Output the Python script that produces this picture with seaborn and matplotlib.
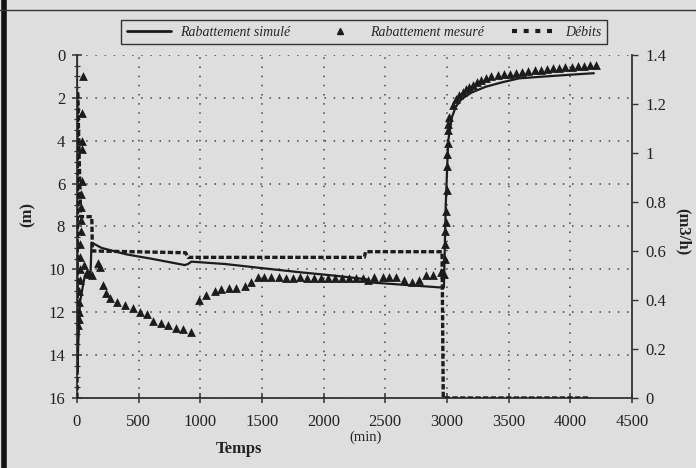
import numpy as np
import pandas as pd
import matplotlib
matplotlib.use('Agg')
import matplotlib.pyplot as plt
from matplotlib.lines import Line2D
from matplotlib.ticker import MultipleLocator, FuncFormatter
import seaborn as sns

# ## data
# simulated drawdown (m)
t_sim = [0, 4, 10, 25, 60, 110, 118, 200, 400, 600, 874, 900, 928, 1200, 1480, 1800, 2100,
         2344, 2355, 2600, 2962, 2975, 2990, 3010, 3040, 3072, 3120, 3200, 3315, 3450, 3584,
         3800, 4000, 4191]
s_sim = [0, 14.8, 13.5, 11.5, 10.4, 10.2, 8.75, 9.0, 9.3, 9.5, 9.8, 9.75, 9.64, 9.75, 9.93,
         10.13, 10.3, 10.46, 10.6, 10.7, 10.85, 10.85, 7.0, 4.0, 2.9, 2.41, 2.05, 1.75, 1.48,
         1.27, 1.09, 1.0, 0.92, 0.85]

# measured drawdown (m)
t_mes = [12, 14, 16, 18, 20, 22, 24, 26, 28, 30, 32, 34, 36, 38, 40, 42, 44, 46,
         60, 80, 100, 119, 173, 186,
         213, 235, 267, 321, 388, 456, 510, 564, 618, 685, 739, 806, 860, 928,
         990, 1049, 1117, 1171, 1232, 1292, 1359, 1413, 1467,
         1520, 1577, 1634, 1691, 1748, 1805, 1862, 1919, 1976, 2033, 2090, 2147, 2204, 2261,
         2318, 2360, 2410, 2478, 2532, 2587, 2654, 2713, 2775, 2829, 2883, 2950,
         2975, 2980, 2984, 2988, 2991, 2994, 2997, 3000, 3003, 3006, 3009, 3012,
         3018, 3045, 3072, 3099, 3126, 3153, 3180, 3210, 3240, 3275, 3315, 3360, 3410, 3460,
         3510, 3560, 3610, 3660, 3710, 3760, 3810, 3860, 3910, 3960, 4010, 4060, 4110, 4160,
         4205]
s_mes = [12.6, 12.3, 12.0, 11.5, 11.0, 10.5, 10.0, 9.4, 8.8, 8.2, 7.7, 7.1, 6.5, 5.9, 4.4,
         4.0, 2.7, 1.0,
         9.8, 10.1, 10.2, 10.26, 9.72, 9.9,
         10.73, 11.1, 11.35, 11.5, 11.66, 11.8, 11.97, 12.1, 12.4, 12.5, 12.6, 12.75, 12.8, 12.9,
         11.43, 11.2, 11.0, 10.93, 10.88, 10.85, 10.78, 10.57, 10.34,
         10.35, 10.37, 10.37, 10.38, 10.38, 10.37, 10.38, 10.38, 10.4, 10.4, 10.4, 10.4, 10.4,
         10.42, 10.42, 10.5, 10.37, 10.37, 10.37, 10.37, 10.5, 10.57, 10.5, 10.26, 10.26, 10.1,
         10.2, 9.5, 8.8, 8.2, 7.8, 7.3, 6.3, 5.2, 4.6, 4.1, 3.5, 3.2,
         2.88, 2.33, 2.05, 1.87, 1.72, 1.6, 1.48, 1.38, 1.28, 1.18, 1.09, 1.0, 0.94, 0.9,
         0.87, 0.85, 0.8, 0.76, 0.72, 0.69, 0.66, 0.63, 0.6, 0.58, 0.55, 0.53, 0.51, 0.49,
         0.47]

# discharge (m3/h)
t_q = [0, 5, 30, 120, 125, 880, 900, 2330, 2340, 2960, 2970, 4150]
q = [0, 1.25, 0.74, 0.74, 0.6, 0.593, 0.574, 0.574, 0.597, 0.597, 0, 0]

bg = '#dedede'
ink = '#1c1c1c'

sns.set_style('ticks')
plt.rcParams['font.family'] = ['Liberation Serif', 'DejaVu Serif']

fig, ax = plt.subplots(figsize=(6.96, 4.68), dpi=100)
fig.patch.set_facecolor(bg)
ax.set_facecolor(bg)
fig.subplots_adjust(left=0.1106, right=0.908, top=0.8825, bottom=0.1496)

df_sim = pd.DataFrame({'t': t_sim, 's': s_sim})
df_mes = pd.DataFrame({'t': t_mes, 's': s_mes})
df_q = pd.DataFrame({'t': t_q, 'q': q})

sns.lineplot(data=df_sim, x='t', y='s', ax=ax, sort=False, estimator=None,
             color=ink, lw=1.6)
sns.scatterplot(data=df_mes, x='t', y='s', ax=ax, marker='^', s=40,
                color=ink, edgecolor=ink, linewidth=0)

ax2 = ax.twinx()
sns.lineplot(data=df_q, x='t', y='q', ax=ax2, sort=False, estimator=None,
             color=ink, lw=2.4)
ax2.lines[0].set_dashes([1.6, 0.7])

ax.set_xlim(0, 4500)
ax.set_ylim(16, 0)
ax2.set_ylim(0, 1.4)

ax.xaxis.set_major_locator(MultipleLocator(500))
ax.yaxis.set_major_locator(MultipleLocator(2))
ax.yaxis.set_minor_locator(MultipleLocator(0.5))
ax2.yaxis.set_major_locator(MultipleLocator(0.2))
ax2.yaxis.set_major_formatter(FuncFormatter(lambda v, p: '%g' % round(v, 1)))

ax.grid(True, which='major', color='#444444', linestyle=(0, (1, 5)), lw=1.1)
ax.set_xlabel('')
ax.set_ylabel('')
ax2.set_ylabel('')

for a in (ax, ax2):
    a.spines['top'].set_visible(False)
    for sp in a.spines.values():
        sp.set_color('#333333')
        sp.set_linewidth(1.3)
ax.spines['right'].set_visible(False)
ax2.spines['left'].set_visible(False)
ax2.spines['bottom'].set_visible(False)

ax.tick_params(axis='x', which='major', direction='inout', length=7, width=1.1,
               labelsize=12, colors='#333333', labelcolor='#222222', pad=8)
ax.tick_params(axis='y', which='major', direction='inout', length=7, width=1.1,
               labelsize=12, colors='#333333', labelcolor='#222222', pad=5)
ax.tick_params(axis='y', which='minor', direction='inout', length=4, width=0.9,
               colors='#333333')
ax2.tick_params(axis='y', which='major', direction='out', length=4, width=1,
                labelsize=12, colors='#333333', labelcolor='#222222', pad=6)

fig.text(28 / 696, 1 - 215 / 468, '(m)', rotation=90, ha='center', va='center',
         fontsize=12, fontweight='bold', color='#222222')
fig.text(683 / 696, 1 - 232 / 468, '(m3/h)', rotation=270, ha='center', va='center',
         fontsize=12, fontweight='bold', color='#222222')
fig.text(239 / 696, 1 - 449 / 468, 'Temps', ha='center', va='center',
         fontsize=12, fontweight='bold', color='#222222')
fig.text(366 / 696, 1 - 437 / 468, '(min)', ha='center', va='center',
         fontsize=10.5, color='#222222')

handles = [Line2D([], [], color=ink, lw=2),
           Line2D([], [], color=ink, marker='^', linestyle='none', markersize=5),
           Line2D([], [], color=ink, lw=3, dashes=[1.2, 1.6])]
labels = ['Rabattement simulé', 'Rabattement mesuré', 'Débits']
leg = fig.legend(handles, labels, loc='center', bbox_to_anchor=(364 / 696, 1 - 32 / 468),
                 ncol=3, frameon=True, fancybox=False, edgecolor='#333333', facecolor=bg,
                 framealpha=1, handlelength=3.2, handletextpad=0.6, columnspacing=2.0,
                 borderpad=0.4, prop={'family': 'Liberation Serif', 'style': 'italic',
                                      'size': 10})
leg.get_frame().set_linewidth(1.0)

# scan border
fig.add_artist(Line2D([4 / 696, 4 / 696], [0, 1], color='#111111', lw=4,
                      transform=fig.transFigure))
fig.add_artist(Line2D([0, 1], [1 - 10 / 468, 1 - 10 / 468], color='#333333', lw=1,
                      transform=fig.transFigure))

fig.savefig('out.png', dpi=100, facecolor=bg)
